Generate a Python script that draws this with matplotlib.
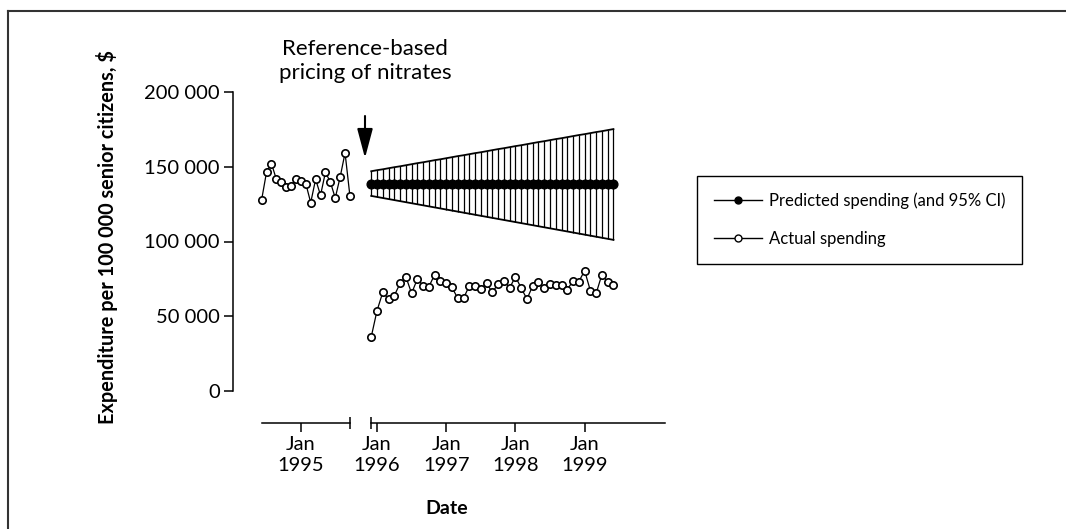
import numpy as np
import matplotlib
matplotlib.use('Agg')
import matplotlib.pyplot as plt
from matplotlib.lines import Line2D

plt.rcParams['font.family'] = ['Lato', 'DejaVu Sans']

# months before the policy, counted from Jan 1995 (May 1994 .. Nov 1995)
pre_months = np.arange(-8, 11)
pre_actual = [128000, 146500, 152100, 141600, 139800, 136400, 137400, 141800, 140500,
              138700, 126000, 141600, 130900, 146300, 139800, 129100, 143100, 159300, 130200]

# months after the policy, counted from Jan 1996 (Dec 1995 .. Jun 1999)
post_months = np.arange(-1, 42)
post_actual = [36200, 53700, 66000, 61500, 63800, 72000, 76500, 65300, 75000, 70500,
               69800, 77900, 73800, 72500, 69300, 62000, 62000, 70300, 70300, 68200,
               72000, 66000, 71600, 73800, 68900, 76500, 68900, 61500, 70300, 73200,
               68700, 71600, 71100, 71100, 67800, 73800, 73200, 80500, 67100, 65300,
               77900, 72700, 70900]
predicted = [138500, 138500, 138500, 138500, 138500, 138500, 138500, 138500, 138500, 138500,
             138500, 138500, 138500, 138500, 138500, 138500, 138500, 138500, 138500, 138500,
             138500, 138500, 138500, 138500, 138500, 138500, 138500, 138500, 138500, 138500,
             138500, 138500, 138500, 138500, 138500, 138500, 138500, 138500, 138500, 138500,
             138500, 138500, 138500]
ci_upper = [147000, 147700, 148300, 149000, 149700, 150300, 151000, 151700, 152400, 153000,
            153700, 154400, 155000, 155700, 156400, 157100, 157700, 158400, 159100, 159700,
            160400, 161100, 161800, 162400, 163100, 163800, 164400, 165100, 165800, 166500,
            167100, 167800, 168500, 169100, 169800, 170500, 171200, 171800, 172500, 173200,
            173800, 174500, 175200]
ci_lower = [130500, 129800, 129100, 128400, 127700, 127000, 126300, 125600, 124900, 124200,
            123500, 122800, 122100, 121400, 120700, 120000, 119300, 118600, 117900, 117200,
            116500, 115800, 115100, 114400, 113700, 113000, 112300, 111600, 110900, 110200,
            109500, 108800, 108100, 107400, 106700, 106000, 105300, 104600, 103900, 103200,
            102500, 101800, 101100]

pre_ticks = [0]
pre_ticklabels = ['Jan\n1995']
post_ticks = [0, 12, 24, 36]
post_ticklabels = ['Jan\n1996', 'Jan\n1997', 'Jan\n1998', 'Jan\n1999']
yticks = [0, 50000, 100000, 150000, 200000]
yticklabels = ['0', '50 000', '100 000', '150 000', '200 000']

W, H = 1066, 529
fig = plt.figure(figsize=(W / 100, H / 100), dpi=100)

def box(x0, x1, ytop, ybot):
    return [x0 / W, 1 - ybot / H, (x1 - x0) / W, (ybot - ytop) / H]

Y_TOP, Y_BOT = 92, 391
# pre period axes: pixel = 300.9 + 4.906*m
ax1 = fig.add_axes(box(233, 356, Y_TOP, Y_BOT))
ax1.set_xlim((233 - 300.9) / 4.906, (356 - 300.9) / 4.906)
# post period axes: pixel = 377 + 5.767*m
ax2 = fig.add_axes(box(360, 700, Y_TOP, Y_BOT))
ax2.set_xlim((360 - 377) / 5.767, (700 - 377) / 5.767)

for ax in (ax1, ax2):
    ax.set_ylim(0, 200000)
    ax.patch.set_visible(False)
    for s in ('top', 'right'):
        ax.spines[s].set_visible(False)
    ax.spines['bottom'].set_position(('outward', 23))
    ax.spines['bottom'].set_linewidth(1.1)
    ax.tick_params(axis='x', which='major', direction='out', length=6.5, width=1.1,
                   labelsize=14.5, pad=3)
    ax.tick_params(axis='x', which='minor', direction='inout', length=8, width=1.1)

ax2.spines['left'].set_visible(False)
ax2.tick_params(axis='y', left=False, labelleft=False)

ax1.spines['left'].set_bounds(0, 200000)
ax1.spines['left'].set_linewidth(1.1)
ax1.set_yticks(yticks)
ax1.set_yticklabels(yticklabels)
ax1.tick_params(axis='y', direction='out', length=6.5, width=1.1, labelsize=14.5, pad=3)

ax1.spines['bottom'].set_bounds(pre_months[0], pre_months[-1])
ax1.set_xticks(pre_ticks)
ax1.set_xticklabels(pre_ticklabels, linespacing=1.25)
ax1.set_xticks([pre_months[-1]], minor=True)

ax2.spines['bottom'].set_bounds(post_months[0], 50)
ax2.set_xticks(post_ticks)
ax2.set_xticklabels(post_ticklabels, linespacing=1.25)
ax2.set_xticks([post_months[0]], minor=True)

# predicted with CI
ax2.vlines(post_months, ci_lower, ci_upper, color='black', lw=0.9)
ax2.plot(post_months, ci_upper, color='black', lw=1.3)
ax2.plot(post_months, ci_lower, color='black', lw=1.3)
ax2.plot(post_months, predicted, color='black', lw=1, marker='o', ms=6.3,
         mfc='black', mec='black')

# actual spending
ax1.plot(pre_months, pre_actual, color='black', lw=0.9, marker='o', ms=5.3,
         mfc='white', mec='black', mew=1.2)
ax2.plot(post_months, post_actual, color='black', lw=0.9, marker='o', ms=5.3,
         mfc='white', mec='black', mew=1.2)

# annotation
fig.text(365 / W, 1 - 61 / H, 'Reference-based\npricing of nitrates', ha='center', va='center',
         fontsize=16, linespacing=1.2)
fig.add_artist(plt.Annotation('', xy=(365, H - 158), xytext=(365, H - 116),
                              xycoords='figure pixels', textcoords='figure pixels',
                              arrowprops=dict(arrowstyle='-|>,head_length=0.45,head_width=0.12',
                                              mutation_scale=40, lw=1.5, color='black',
                                              shrinkA=0, shrinkB=0)))

fig.text(107 / W, 1 - 237 / H, 'Expenditure per 100 000 senior citizens, $', rotation=90,
         ha='center', va='center', fontsize=14.3, fontweight='bold')
fig.text(447 / W, 1 - 508 / H, 'Date', ha='center', va='center', fontsize=14, fontweight='bold')

handles = [Line2D([], [], color='black', lw=1, marker='o', ms=5, mfc='black'),
           Line2D([], [], color='black', lw=1, marker='o', ms=5, mfc='white', mew=1)]
leg = fig.legend(handles, ['Predicted spending (and 95% CI)', 'Actual spending'],
                 loc='upper left', bbox_to_anchor=(697 / W, 1 - 176 / H), fontsize=12,
                 frameon=True, fancybox=False, framealpha=1, edgecolor='black',
                 handlelength=2.9, handletextpad=0.4, labelspacing=1.3, borderpad=1.0,
                 borderaxespad=0)
leg.get_frame().set_linewidth(1)

# frame lines (top and left)
fig.add_artist(Line2D([8 / W, 1], [1 - 10.5 / H, 1 - 10.5 / H], transform=fig.transFigure,
                      color='#333333', lw=1.5))
fig.add_artist(Line2D([8 / W, 8 / W], [0, 1 - 10.5 / H], transform=fig.transFigure,
                      color='#333333', lw=1.5))

fig.savefig('out.png', dpi=100)
